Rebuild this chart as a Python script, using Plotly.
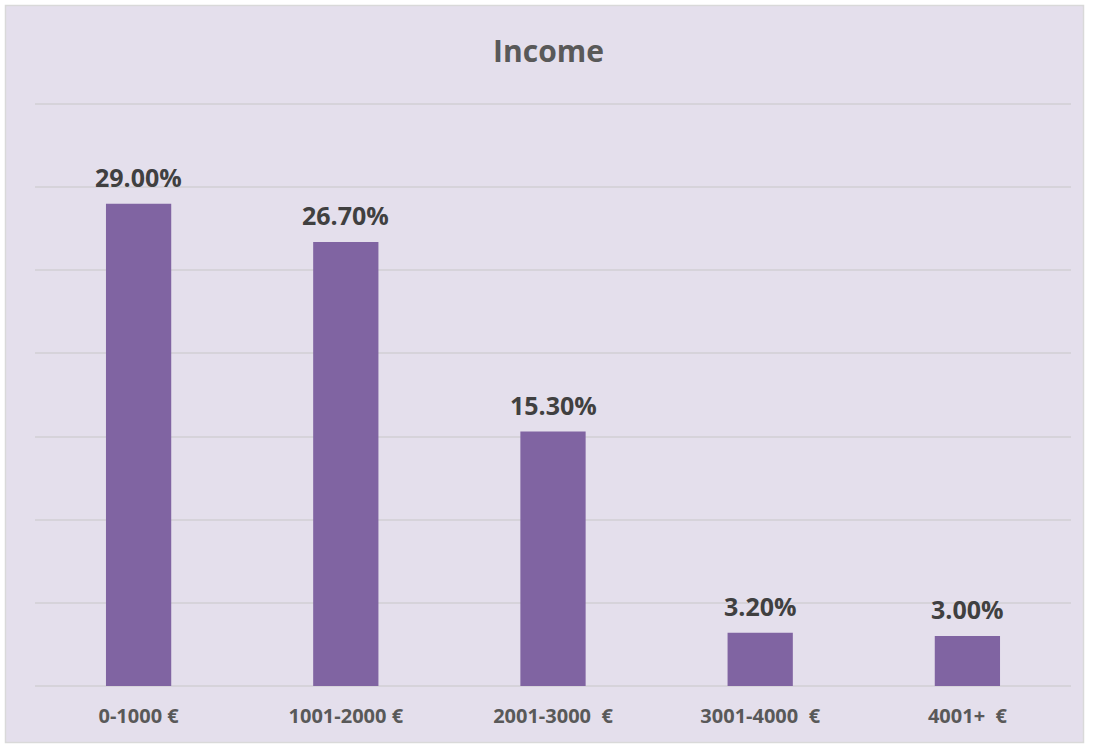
import plotly.graph_objects as go

categories = ["0-1000 €", "1001-2000 €", "2001-3000\u00a0 €", "3001-4000\u00a0 €", "4001+\u00a0 €"]
values = [29.0, 26.7, 15.3, 3.2, 3.0]
labels = [f"{v:.2f}%" for v in values]

W, H = 1097, 747
L, R, T, B = 35, 1071, 101, 686
YMAX = 35 * (B - T) / 582.0

def px_x(p):
    return (p - L) / (R - L)

def px_y(p):
    return (B - p) / (B - T)

FONT = "Open Sans"

fig = go.Figure()
fig.add_trace(go.Bar(
    x=categories, y=values,
    marker=dict(color="#8064A2", line=dict(width=0)),
    width=0.315, hoverinfo="skip",
))

for c, v, t in zip(categories, values, labels):
    fig.add_annotation(x=c, y=v, text=f"<b>{t}</b>", showarrow=False,
                       xanchor="center", yanchor="bottom", yshift=8,
                       font=dict(family=FONT, size=25, color="#404040"))

fig.update_layout(
    width=W, height=H,
    margin=dict(l=L, r=W - R, t=T, b=H - B),
    paper_bgcolor="white", plot_bgcolor="rgba(0,0,0,0)",
    showlegend=False,
    title=dict(text="<b>Income</b>", x=px_x(553), xanchor="center", y=1 - 51 / H, yanchor="middle",
               font=dict(family=FONT, size=30, color="#595959")),
    xaxis=dict(showgrid=False, showline=False, ticks="outside", ticklen=12, tickcolor="rgba(0,0,0,0)",
               tickfont=dict(family=FONT, size=20, color="#595959", weight="bold")),
    yaxis=dict(range=[0, YMAX], tickvals=[0, 5, 10, 15, 20, 25, 30, 35], showgrid=True,
               gridcolor="#D6D3DA", gridwidth=1.5,
               showticklabels=False, zeroline=True, zerolinecolor="#D6D3DA", zerolinewidth=1.5),
)

fig.add_shape(type="rect", xref="paper", yref="paper",
              x0=px_x(5.5), x1=px_x(1083.5), y0=px_y(742.5), y1=px_y(5.5),
              fillcolor="#E4DFEC", line=dict(color="#D9D9D9", width=1.5), layer="below")

fig.write_html("out.html", post_script="document.body.style.margin='0';",
               config={"displayModeBar": False})
